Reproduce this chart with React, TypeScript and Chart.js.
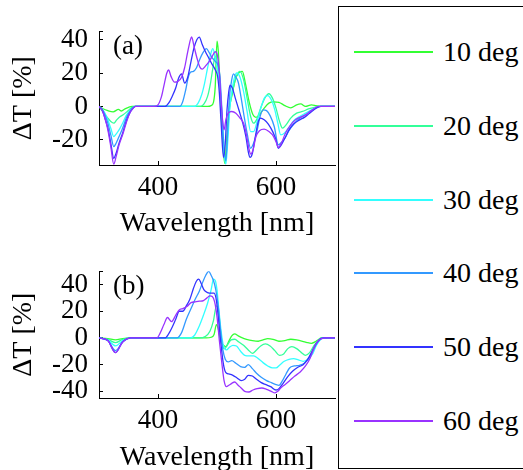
import React, { useEffect, useRef } from 'react';
import { Chart, registerables } from 'chart.js';

Chart.register(...registerables);

// ---------- data ----------
const seriesLabels = ['10 deg', '20 deg', '30 deg', '40 deg', '50 deg', '60 deg'];
const seriesColors = ['#33ff33', '#33ff99', '#33ffff', '#3399ff', '#3333ff', '#9933ff'];

const xRange = [300, 700];
const xTicks = [400, 600];
const yRangeA = [-35, 45];
const yTicksA = [-20, 0, 20, 40];
const yRangeB = [-45, 50];
const yTicksB = [-40, -20, 0, 20, 40];

const xTitle = 'Wavelength [nm]';
const yTitle = 'ΔT [%]';
const panelA = '(a)';
const panelB = '(b)';

// panel (a): [wavelength nm, ΔT %]
const a10 = [[300,0],[306,-1.2],[315,-2.5],[324,-3.2],[333,-1.8],[338,-2.7],[344,-1.4],[350,-0.5],[356,0],
  [484,0],[490,0.5],[494,2.5],[497,12],[500,39],[502,34],[505,14],[509,-16],[513,-34],[516,-22],[520,-3],[525,6],[531,16],[538,20.5],[543,21],[548,14],[555,2],[561,-5],[566,-6.5],[572,-5],[580,-1],[588,2],[596,2.8],[605,2.5],[615,0.5],[625,-0.8],[635,1],[642,1.5],[650,0],[660,1],[668,0.5],[676,0],[700,0]];
const a20 = [[300,0],[306,-3],[315,-7],[320,-9],[325,-10],[330,-8],[336,-6],[341,-5],[350,-2.3],[356,-0.5],[360,0],
  [472,0],[478,1.5],[484,6],[489,14],[493,23],[497,30],[500,27],[503,18],[507,0],[510,-20],[514,-33],[517,-22],[521,-2],[527,10],[533,18],[539,21],[545,16],[551,5],[557,-6],[562,-10],[567,-8],[574,-1],[581,5],[588,7.6],[594,5],[600,-1],[606,-9],[611,-13],[617,-11],[625,-7],[635,-4],[645,-3],[655,-1.5],[665,-0.5],[675,0],[700,0]];
const a30 = [[300,0],[305,-1.5],[310,-4],[315,-8],[320,-13],[325,-18],[329,-16.5],[334,-14],[340,-10],[346,-5.5],[352,-2.5],[358,-0.5],[362,0],
  [462,0],[468,2],[474,7],[479,14],[484,23],[489,31],[493,34.6],[497,29],[501,22],[505,12],[509,-8],[512,-28],[515,-34.5],[518,-22],[522,0],[527,13],[533,20],[539,17.5],[545,9],[551,-3],[557,-15],[562,-15],[568,-9],[575,0],[581,5.5],[586,6.5],[592,4],[598,-2],[603,-10],[608,-17],[614,-16],[621,-13],[630,-8.5],[640,-6],[650,-4],[660,-2],[672,0],[700,0]];
const a40 = [[300,0],[305,-1.5],[310,-5],[315,-10],[320,-17],[325,-24],[329,-22],[334,-18],[340,-13],[346,-7],[352,-3],[358,-0.5],[362,0],
  [437,0],[442,3],[447,10],[451,17],[455,20.4],[460,21],[465,23],[470,27.5],[476,32],[482,34.6],[487,32],[492,29],[497,27],[502,24.5],[505,18],[508,0],[511,-20],[515,-32.5],[518,-15],[521,5],[525,16],[528,19.5],[532,17.5],[536,14.5],[541,5],[546,-6],[551,-16],[557,-25],[562,-22],[567,-16],[573,-6],[578,-2],[584,-2.5],[590,-5.5],[597,-12],[604,-23],[609,-21.5],[615,-19],[622,-14.5],[630,-10.5],[640,-7],[650,-5],[660,-2.5],[670,-0.5],[676,0],[700,0]];
const a50 = [[300,0],[305,-2],[310,-7],[315,-13],[320,-22],[325,-31],[329,-28],[334,-22],[340,-16],[346,-9],[352,-4],[358,-1],[362,0],
  [412,0],[418,2],[424,6],[430,11],[435,17],[440,19.5],[445,14],[450,17],[456,27],[461,35],[466,40],[470,41.5],[475,37],[480,33],[486,29],[492,25],[497,22],[501,18],[504,8],[507,-10],[511,-30.5],[514,-22],[517,-2],[520,9],[522,12.8],[526,11],[531,5],[537,-2],[543,-9],[549,-18],[553,-27],[556,-30.5],[560,-28],[565,-18],[570,-9],[574,-7],[580,-8],[587,-10.5],[595,-15.5],[600,-20],[604,-25],[609,-23],[615,-19],[622,-14],[630,-10.5],[640,-8],[648,-6.5],[657,-4],[668,-1],[676,0],[700,0]];
const a60 = [[300,0],[305,-2],[310,-7],[315,-14],[320,-24],[325,-34.5],[329,-30],[334,-23],[340,-17],[346,-10],[352,-4],[358,-1],[362,0],
  [393,0],[400,1],[406,6],[411,14],[415,20],[418,21.8],[422,18],[428,14.5],[434,15],[440,17.5],[445,23],[450,32],[455,40],[457,41.6],[461,36],[466,29],[471,23.5],[475,22.3],[480,24],[486,26.5],[492,30],[497,32.7],[501,30],[504,20],[507,3],[510,-10],[512,-14],[515,-8],[519,-4],[525,-3],[532,-4],[539,-7],[545,-10],[550,-17],[554,-25],[557,-28.5],[561,-26],[566,-18],[572,-14.5],[580,-13.5],[588,-15],[596,-18],[601,-22],[604,-24.5],[609,-22],[616,-16],[624,-11.5],[633,-8],[641,-6.5],[650,-5],[660,-2.5],[672,0],[700,0]];

// panel (b)
const b10 = [[300,0],[315,-0.5],[328,-1.5],[340,-0.5],[355,0],
  [482,0],[490,0.5],[495,2.5],[499,10],[502,7],[506,-2],[510,-5],[515,-6.5],[520,-2.5],[525,1.5],[530,3],[536,1.5],[543,0],[550,-1],[560,-2],[570,-2.5],[578,-1.5],[586,-0.5],[595,-1],[605,-2.5],[615,-2],[625,-1],[635,-1.5],[645,-2.5],[653,-3.5],[660,-4],[666,-3],[671,-1.5],[677,0],[700,0]];
const b20 = [[300,0],[315,-1],[328,-3.5],[340,-1],[355,0],
  [470,0],[480,1],[488,5],[494,13],[499,24],[502,22],[505,8],[509,-5],[513,-8],[518,-5],[524,-1.5],[530,-1],[537,-3],[545,-5.5],[553,-9],[560,-11.5],[567,-9],[574,-6],[582,-4.5],[590,-6],[598,-9.5],[606,-13],[613,-12],[620,-8],[627,-6.5],[635,-8],[643,-11],[650,-13],[657,-11],[664,-6],[670,-2.5],[677,0],[700,0]];
const b30 = [[300,0],[315,-1.5],[328,-6],[340,-2],[355,0],
  [455,0],[462,2],[470,9],[477,17],[484,26],[490,36],[494,44],[497,43],[500,36],[503,22],[507,5],[511,-6],[516,-9],[521,-7],[527,-5.5],[533,-6],[540,-10],[547,-13],[555,-13.5],[562,-13.5],[570,-15.5],[578,-18.5],[586,-21],[594,-22.5],[600,-22.5],[607,-20],[614,-17.5],[622,-16],[630,-15.5],[638,-16.5],[646,-17.5],[654,-16],[662,-12],[668,-6],[674,-2],[680,0],[700,0]];
const b40 = [[300,0],[315,-2],[328,-9.5],[340,-3],[355,0],
  [432,0],[440,4],[448,14],[456,22],[463,29],[470,35],[476,42],[481,47],[486,49.8],[490,47],[494,43],[498,36],[502,24],[506,6],[510,-9],[514,-16],[519,-18],[525,-17],[532,-19],[540,-21.5],[547,-22],[553,-20],[560,-23],[567,-26.5],[575,-29.5],[584,-32],[592,-33.5],[600,-35],[605,-35.5],[611,-32],[617,-27],[623,-22.5],[631,-21],[640,-20.5],[648,-19],[656,-15],[663,-9],[670,-3.5],[677,-0.5],[690,0],[700,0]];
const b50 = [[300,0],[315,-2],[328,-11],[340,-3],[355,0],
  [412,0],[418,3],[424,8],[430,14],[436,20],[442,20],[448,24],[454,29],[460,37],[465,42.5],[469,44],[473,41],[478,36],[484,34],[490,33.5],[495,33.5],[499,28],[503,12],[507,-6],[511,-20],[515,-26],[520,-27],[527,-28],[534,-30],[541,-32],[547,-31],[553,-28],[560,-28.5],[567,-31],[575,-33.5],[583,-35],[591,-36.5],[600,-39],[605,-38],[612,-34],[620,-29],[628,-25],[637,-22],[646,-20],[653,-16.5],[660,-11],[667,-5],[673,-1.5],[680,0],[700,0]];
const b60 = [[300,0],[315,-2],[328,-11],[340,-3],[355,0],
  [398,0],[404,4],[410,10],[416,15.3],[423,12.2],[430,17],[436,21],[442,22],[449,23.5],[456,26.5],[463,27],[470,27.5],[477,28],[483,30],[488,31.5],[492,31],[496,27],[500,16],[504,-2],[508,-18],[512,-32],[516,-36.5],[520,-35.5],[525,-34],[530,-33],[535,-35],[541,-37.5],[547,-40],[554,-40.5],[561,-39],[568,-38],[576,-37.5],[584,-38.5],[592,-40],[598,-41.2],[603,-40],[608,-37.5],[615,-35],[623,-32],[632,-28.5],[641,-25.5],[650,-21],[658,-15],[664,-8],[670,-3],[677,-0.5],[685,0],[700,0]];

const seriesA = [a10, a20, a30, a40, a50, a60];
const seriesB = [b10, b20, b30, b40, b50, b60];

// ---------- chart config ----------
const FONT = '"Liberation Serif", "Times New Roman", serif';

function panelLabelPlugin(text: string) {
  return {
    id: 'panelLabel',
    afterDraw(chart: any) {
      const { ctx, chartArea } = chart;
      ctx.save();
      ctx.font = `27px ${FONT}`;
      ctx.fillStyle = '#000';
      ctx.textBaseline = 'top';
      ctx.textAlign = 'left';
      ctx.fillText(text, chartArea.left + 14, chartArea.top + 2);
      ctx.restore();
    },
  };
}

function makeConfig(series: number[][][], yRange: number[], yTicks: number[], label: string,
  padTop: number, xAxisHeight: number, titlePadBottom: number): any {
  const tickFont = { family: FONT, size: 27 };
  const titleFont = { family: FONT, size: 28 };
  const yMarks = [...yTicks, yRange[1]];
  return {
    type: 'line',
    data: {
      datasets: series.map((pts, i) => ({
        label: seriesLabels[i],
        data: pts.map(([x, y]) => ({ x, y })),
        borderColor: seriesColors[i],
        backgroundColor: seriesColors[i],
        borderWidth: 1.3,
        pointRadius: 0,
        fill: false,
        cubicInterpolationMode: 'monotone',
        order: series.length - i,
      })),
    },
    options: {
      animation: false,
      responsive: true,
      maintainAspectRatio: false,
      events: [],
      layout: { padding: { top: padTop, right: 5, left: 0, bottom: 0 } },
      plugins: { legend: { display: false }, tooltip: { enabled: false }, title: { display: false } },
      scales: {
        x: {
          type: 'linear',
          min: xRange[0],
          max: xRange[1],
          afterBuildTicks: (s: any) => { s.ticks = xTicks.map((v) => ({ value: v })); },
          afterFit: (s: any) => { s.height = xAxisHeight; },
          grid: { drawOnChartArea: false, drawTicks: true, tickLength: -4, color: '#000', lineWidth: 1 },
          border: { display: true, color: '#000', width: 1 },
          ticks: { color: '#000', font: tickFont, padding: 11, maxRotation: 0, autoSkip: false, callback: (v: any) => String(v) },
          title: { display: true, text: xTitle, color: '#000', font: titleFont, padding: { top: 0, bottom: titlePadBottom } },
        },
        y: {
          type: 'linear',
          min: yRange[0],
          max: yRange[1],
          afterBuildTicks: (s: any) => { s.ticks = yMarks.map((v) => ({ value: v })); },
          afterFit: (s: any) => { s.width = 99; },
          grid: { drawOnChartArea: false, drawTicks: true, tickLength: -4, color: '#000', lineWidth: 1 },
          border: { display: true, color: '#000', width: 1 },
          ticks: { color: '#000', font: tickFont, padding: 15, autoSkip: false,
            callback: (v: any) => (yTicks.includes(v) ? String(v) : '') },
          title: { display: true, text: yTitle, color: '#000', font: titleFont, padding: { top: 7, bottom: 0 } },
        },
      },
    },
    plugins: [panelLabelPlugin(label)],
  };
}

function ChartPanel({ config, style }: { config: any; style: React.CSSProperties }) {
  const ref = useRef<HTMLCanvasElement>(null);
  useEffect(() => {
    const chart = new Chart(ref.current as HTMLCanvasElement, config);
    return () => chart.destroy();
  }, [config]);
  return (
    <div style={style}>
      <canvas ref={ref} />
    </div>
  );
}

const cfgA = makeConfig(seriesA, yRangeA, yTicksA, panelA, 25, 75, 0);
const cfgB = makeConfig(seriesB, yRangeB, yTicksB, panelB, 23, 82, 6);

function Legend() {
  return (
    <div style={{ position: 'absolute', left: 338, top: 6, width: 200, height: 463, border: '1px solid #000', boxSizing: 'border-box', background: '#fff' }}>
      {seriesLabels.map((lab, i) => (
        <div key={lab} style={{ position: 'absolute', left: 15, top: Math.round(29 + i * 73.8), height: 32, display: 'flex', alignItems: 'center', whiteSpace: 'nowrap' }}>
          <div style={{ width: 79, height: 2, backgroundColor: seriesColors[i], flex: 'none' }} />
          <span style={{ marginLeft: 10, fontFamily: FONT, fontSize: 28, lineHeight: '32px', color: '#000' }}>{lab}</span>
        </div>
      ))}
    </div>
  );
}

export default function App() {
  return (
    <div style={{ position: 'fixed', left: 0, top: 0, width: 523, height: 470, overflow: 'hidden', background: '#fff' }}>
      <ChartPanel config={cfgA} style={{ position: 'absolute', left: 0, top: 0, width: 340, height: 240 }} />
      <ChartPanel config={cfgB} style={{ position: 'absolute', left: 0, top: 240, width: 340, height: 240 }} />
      <Legend />
    </div>
  );
}
